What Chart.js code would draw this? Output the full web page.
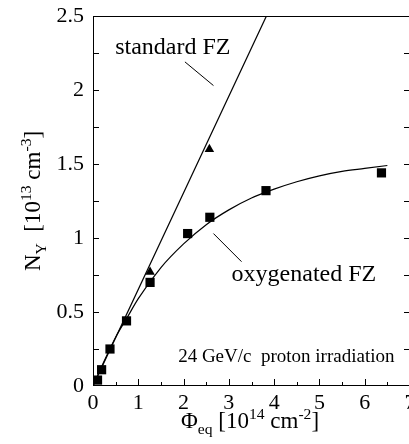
<!DOCTYPE html>
<html lang="en">
<head>
    <meta charset="UTF-8">
    <title>Introduction rate of N_Y</title>
    <script src="https://cdn.jsdelivr.net/npm/chart.js"></script>
    <style>
        html, body { margin: 0; padding: 0; background: #fff; overflow: hidden; }
        #wrap { position: relative; width: 420px; height: 444px; }
    </style>
</head>
<body>
    <div id="wrap"><canvas id="nyChart"></canvas></div>
    <script>
        // measured points
        const oxyFluence = [0.10, 0.19, 0.375, 0.74, 1.26, 2.09, 2.58, 3.82, 6.37];
        const oxyNy = [0.04, 0.11, 0.25, 0.44, 0.70, 1.03, 1.14, 1.32, 1.44];
        const stdFluence = [1.26, 2.57];
        const stdNy = [0.77, 1.60];

        // fit lines
        const stdFitX = [0, 3.83];
        const stdFitY = [0, 2.5];
        const oxyFitX = [0, 0.25, 0.5, 0.75, 1, 1.5, 2, 2.5, 3, 3.5, 4, 4.5, 5, 5.5, 6, 6.5];
        const oxyFitY = [0, 0.17, 0.33, 0.46, 0.59, 0.80, 0.96, 1.09, 1.19, 1.27, 1.33, 1.38, 1.42, 1.45, 1.47, 1.49];

        const xTicks = [0, 1, 2, 3, 4, 5, 6, 7];
        const yTicks = [0, 0.5, 1, 1.5, 2, 2.5];

        const FONT = '"Liberation Serif", "Times New Roman", serif';
        const pts = (xs, ys) => xs.map((x, i) => ({ x: x, y: ys[i] }));

        // draws text made of normal / sub / sup pieces
        function richText(ctx, parts, size) {
            let w = 0;
            parts.forEach(p => {
                ctx.font = (p[1] ? size * 0.68 : size) + 'px ' + FONT;
                w += ctx.measureText(p[0]).width;
            });
            return w;
        }
        function drawRich(ctx, parts, size, x, y) {
            let cx = x;
            parts.forEach(p => {
                const s = p[1] ? size * 0.68 : size;
                ctx.font = s + 'px ' + FONT;
                const dy = p[1] === 'sub' ? size * 0.28 : (p[1] === 'sup' ? -size * 0.38 : 0);
                ctx.fillText(p[0], cx, y + dy);
                cx += ctx.measureText(p[0]).width;
            });
        }

        const framePlugin = {
            id: 'frame',
            afterDraw(chart) {
                const ctx = chart.ctx;
                const xs = chart.scales.x, ys = chart.scales.y;
                const a = chart.chartArea;
                ctx.save();
                ctx.strokeStyle = '#000';
                ctx.fillStyle = '#000';
                ctx.lineWidth = 1;
                ctx.strokeRect(a.left + 0.5, a.top + 0.5, a.right - a.left - 1, a.bottom - a.top - 1);

                ctx.beginPath();
                // left / right ticks, every 0.25
                for (let v = 0.25; v < 2.5; v += 0.25) {
                    const py = Math.round(ys.getPixelForValue(v)) + 0.5;
                    ctx.moveTo(a.left, py); ctx.lineTo(a.left + 6, py);
                    ctx.moveTo(a.right, py); ctx.lineTo(a.right - 6, py);
                }
                // bottom ticks, major every 1 and minor every 0.5
                for (let v = 0.5; v < 7; v += 0.5) {
                    const px = Math.round(xs.getPixelForValue(v)) + 0.5;
                    const len = (v % 1 === 0) ? 7 : 4;
                    ctx.moveTo(px, a.bottom); ctx.lineTo(px, a.bottom - len);
                }
                // leader lines
                const lx = v => xs.getPixelForValue(v), ly = v => ys.getPixelForValue(v);
                ctx.moveTo(lx(2.03), ly(2.19)); ctx.lineTo(lx(2.66), ly(2.03));
                ctx.moveTo(lx(2.66), ly(1.03)); ctx.lineTo(lx(3.28), ly(0.84));
                ctx.stroke();

                // labels in the plot
                ctx.textBaseline = 'alphabetic';
                ctx.textAlign = 'left';
                ctx.font = '24px ' + FONT;
                ctx.fillText('standard FZ', lx(0.49), ly(2.24));
                ctx.fillText('oxygenated FZ', lx(3.06), ly(0.71));
                ctx.font = '19px ' + FONT;
                ctx.fillText('24 GeV/c  proton irradiation', lx(1.88), ly(0.16));

                // axis titles
                const xTitle = [['\u03A6'], ['eq', 'sub'], [' [10'], ['14', 'sup'], [' cm'], ['-2', 'sup'], [']']];
                const xw = richText(ctx, xTitle, 23);
                drawRich(ctx, xTitle, 23, 250 - xw / 2, 428);

                const yTitle = [['N'], ['Y', 'sub'], ['  [10'], ['13', 'sup'], [' cm'], ['-3', 'sup'], [']']];
                const yw = richText(ctx, yTitle, 23);
                ctx.translate(40, 201);
                ctx.rotate(-Math.PI / 2);
                drawRich(ctx, yTitle, 23, -yw / 2, 0);
                ctx.restore();
            }
        };

        new Chart(document.getElementById('nyChart'), {
            type: 'scatter',
            data: {
                datasets: [
                    {
                        label: 'standard FZ fit',
                        data: pts(stdFitX, stdFitY),
                        showLine: true,
                        borderColor: '#000',
                        borderWidth: 1.2,
                        pointRadius: 0
                    },
                    {
                        label: 'oxygenated FZ fit',
                        data: pts(oxyFitX, oxyFitY),
                        showLine: true,
                        borderColor: '#000',
                        borderWidth: 1.2,
                        cubicInterpolationMode: 'monotone',
                        pointRadius: 0
                    },
                    {
                        label: 'standard FZ',
                        data: pts(stdFluence, stdNy),
                        pointStyle: 'triangle',
                        pointRadius: 5.5,
                        backgroundColor: '#000',
                        borderColor: '#000',
                        borderWidth: 0
                    },
                    {
                        label: 'oxygenated FZ',
                        data: pts(oxyFluence, oxyNy),
                        pointStyle: 'rect',
                        pointRadius: 6.5,
                        backgroundColor: '#000',
                        borderColor: '#000',
                        borderWidth: 0
                    }
                ]
            },
            options: {
                responsive: true,
                maintainAspectRatio: false,
                animation: false,
                layout: { padding: { top: 16, right: 10, left: 0, bottom: 0 } },
                plugins: { legend: { display: false }, tooltip: { enabled: false } },
                scales: {
                    x: {
                        type: 'linear',
                        min: 0,
                        max: 7,
                        afterBuildTicks: s => { s.ticks = xTicks.map(v => ({ value: v })); },
                        afterFit: s => { s.height = 58; },
                        grid: { display: false },
                        border: { display: false },
                        ticks: {
                            autoSkip: false,
                            maxRotation: 0,
                            padding: -4,
                            color: '#000',
                            font: { family: FONT, size: 22 },
                            callback: v => String(v)
                        }
                    },
                    y: {
                        type: 'linear',
                        min: 0,
                        max: 2.5,
                        afterBuildTicks: s => { s.ticks = yTicks.map(v => ({ value: v })); },
                        afterFit: s => { s.width = 93; },
                        grid: { display: false },
                        border: { display: false },
                        ticks: {
                            autoSkip: false,
                            padding: 1,
                            color: '#000',
                            font: { family: FONT, size: 22 },
                            callback: v => String(v)
                        }
                    }
                }
            },
            plugins: [framePlugin]
        });
    </script>
</body>
</html>
